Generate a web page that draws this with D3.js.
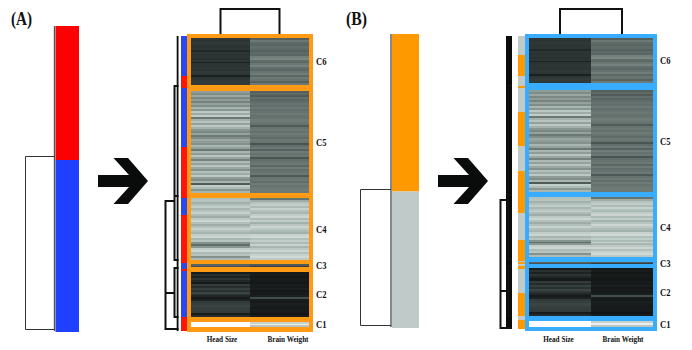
<!DOCTYPE html>
<html>
<head>
<meta charset="utf-8">
<script src="https://cdn.jsdelivr.net/npm/d3@7"></script>
<style>
  html, body { margin: 0; padding: 0; background: #fff; }
  svg { display: block; }
  text { font-family: "Liberation Serif", serif; font-weight: bold; fill: #111; }
</style>
</head>
<body>
<script>
const traits = ['Head Size', 'Brain Weight']
const clusterNames = ['C6', 'C5', 'C4', 'C3', 'C2', 'C1']

// stripes per cluster, top to bottom, 0 = near black, 100 = white
const headC6 = [14,13,15,14,13,14,9,14,13,14,12,14,6,13,14,14,13,15,14,5,13,15,16,15]
const brainC6 = [32,42,36,34,38,36,33,36,35,44,48,37,34,42,46,38,35,40,44,35,42,40,33,42]
const headC5 = [56,50,60,48,56,46,58,50,66,54,74,62,76,42,64,72,58,74,64,54,48,58,42,50,60,56,52,66,58,42,66,56,72,60,46,68,58,72,60,52,70,62,74,56,50,66,30,76,68,54,66]
const brainC5 = [32,36,30,38,34,37,40,38,42,38,40,42,39,40,43,42,39,30,40,42,39,43,40,37,42,40,27,38,42,33,43,40,42,27,38,40,42,35,43,38,40,42,29,40,42,38,43,40,42,43,42]
const headC4 = [70,72,64,70,76,66,72,78,68,62,74,80,70,62,70,78,70,66,76,80,66,72,52,38,54,76,80,68,72,52,68]
const brainC4 = [40,62,72,76,68,78,70,66,76,80,68,76,64,72,80,74,68,64,78,82,70,76,68,78,66,74,80,70,78,82,74]
const headC3 = [34,26]
const brainC3 = [30,18]
const headC2 = [4,12,6,14,8,3,16,10,18,12,20,14,8,3,6,16,18,20,18,17,16,4,10]
const brainC2 = [3,4,2,4,3,2,4,3,5,2,4,3,5,24,4,3,5,4,3,4,3,1,4]
const headC1 = [100,100,100]
const brainC1 = [78,92,72]
const headValues = [headC6, headC5, headC4, headC3, headC2, headC1]
const brainValues = [brainC6, brainC5, brainC4, brainC3, brainC2, brainC1]

// cluster extents in rows, row 0 is the top of the frame
const clusterRowsA = [[4, 51], [57, 159], [164, 226], [230, 233], [238, 283], [288, 293]]
const clusterRowsB = [[4, 49], [56, 158], [163, 223], [228, 230], [234, 282], [287, 293]]

// side colour bars: [group, rows]
const sideA = [[1,40],[0,12],[1,59],[0,51],[1,17],[0,48],[1,6],[0,2],[1,46],[0,14]]
const sideB = [[1,19],[0,21],[1,10],[0,2],[1,24],[0,34],[1,25],[0,42],[1,27],[0,21],[1,1],[0,2],[1,2],[0,3],[1,24],[0,23],[1,4],[0,9]]

// row dendrogram: depth, top row, bottom row, side branches
const mergesA = [
  {depth: 1, top: 52, bottom: 226, branch: [[162, 0]]},
  {depth: 1, top: 234, bottom: 283, branch: []},
  {depth: 3.25, top: 167, bottom: 295, branch: [[259, 1]]}
]
const mergesB = [
  {depth: 1, top: 52, bottom: 225, branch: [[161, 0]]},
  {depth: 1, top: 232, bottom: 282, branch: []},
  {depth: 3.25, top: 166, bottom: 294, branch: [[257, 1]]}
]

// the two group bars on the far left of each panel: share of the height
const overviewA = [{group: 'top', rows: 134}, {group: 'bottom', rows: 172}]
const overviewB = [{group: 'top', rows: 157.5}, {group: 'bottom', rows: 136.5}]

const svg = d3.select('body').append('svg')
  .attr('width', 692)
  .attr('height', 350)

const defs = svg.append('defs')
defs.append('filter').attr('id', 'soft')
  .attr('color-interpolation-filters', 'sRGB')
  .attr('x', '-2%').attr('y', '-2%').attr('width', '104%').attr('height', '104%')
  .append('feGaussianBlur').attr('stdDeviation', 0.3)

const rowY = d3.scaleLinear().domain([0, 298]).range([34, 332])
const shade = d3.scaleLinear()
  .domain([0, 15, 40, 70, 100])
  .range(['#0f1312', '#303838', '#66736f', '#b2c0bb', '#ffffff'])

function drawHeat(p) {
  const g = svg.append('g')
  const x = d3.scaleBand().domain(traits).range([p.cellLeft, p.cellRight])

  g.append('rect')
    .attr('x', p.frameLeft).attr('y', rowY(0))
    .attr('width', p.frameRight - p.frameLeft)
    .attr('height', rowY(p.frameEnd) - rowY(0))
    .attr('fill', p.frame)

  const heat = g.append('g').attr('filter', 'url(#soft)')
  p.clusters.forEach(function(ext, i) {
    const y = d3.scaleBand()
      .domain(d3.range(headValues[i].length))
      .range([rowY(ext[0]), rowY(ext[1])])
    traits.forEach(function(t, k) {
      const vals = k == 0 ? headValues[i] : brainValues[i]
      heat.selectAll(null)
        .data(vals)
        .join('rect')
        .attr('shape-rendering', 'crispEdges')
        .attr('x', x(t))
        .attr('y', function(d, j) { return y(j) })
        .attr('width', x.bandwidth())
        .attr('height', function(d, j) { return j == vals.length - 1 ? y.bandwidth() : y.bandwidth() + 1 })
        .attr('fill', function(d) { return shade(d) })
    })
    g.append('text')
      .attr('x', p.labelX)
      .attr('y', (rowY(ext[0]) + rowY(ext[1])) / 2 + 3.5)
      .attr('font-size', 10)
      .attr('textLength', 10.5)
      .attr('lengthAdjust', 'spacingAndGlyphs')
      .text(clusterNames[i])
  })

  traits.forEach(function(t, k) {
    g.append('text')
      .attr('x', x(t) + x.bandwidth() / 2 + p.traitShift[k])
      .attr('y', 342)
      .attr('text-anchor', 'middle')
      .attr('font-size', 9)
      .attr('textLength', k == 0 ? 30.5 : 41)
      .attr('lengthAdjust', 'spacingAndGlyphs')
      .text(t)
  })

  // column dendrogram
  const cx = traits.map(function(t) { return x(t) + x.bandwidth() / 2 })
  g.append('path')
    .attr('d', d3.line()([[cx[0], 34], [cx[0], 9], [cx[1], 9], [cx[1], 34]]))
    .attr('fill', 'none').attr('stroke', '#111').attr('stroke-width', 2)

  // side bar
  let row = 2
  p.side.forEach(function(s) {
    g.append('rect')
      .attr('x', p.sideLeft).attr('y', rowY(row))
      .attr('width', p.frameLeft - p.sideLeft)
      .attr('height', rowY(row + s[1]) - rowY(row))
      .attr('fill', p.sideColors[s[0]])
    row += s[1]
  })

  // row dendrogram
  const depthX = d3.scaleLinear().domain([0, 3.25]).range([p.treeRight, p.treeLeft])
  g.append('rect')
    .attr('x', p.treeRight - p.trunk)
    .attr('y', rowY(2))
    .attr('width', p.trunk)
    .attr('height', rowY(p.trunkEnd) - rowY(2))
    .attr('fill', '#0b0b0b')
  const line = d3.line()
  p.merges.forEach(function(m) {
    const child = m.depth > 1 ? 1 : 0
    g.append('path')
      .attr('d', line([
        [depthX(child), rowY(m.top)], [depthX(m.depth), rowY(m.top)],
        [depthX(m.depth), rowY(m.bottom)], [depthX(0), rowY(m.bottom)]
      ]))
      .attr('fill', 'none').attr('stroke', '#111').attr('stroke-width', 2)
    m.branch.forEach(function(b) {
      g.append('path')
        .attr('d', line([[depthX(m.depth), rowY(b[0])], [depthX(b[1]), rowY(b[0])]]))
        .attr('stroke', '#111').attr('stroke-width', 2)
    })
  })
}

function drawOverview(p) {
  const g = svg.append('g')
  const y = d3.scaleLinear().domain([0, d3.sum(p.bars, function(d) { return d.rows })]).range([p.top, p.bottom])
  const color = d3.scaleOrdinal().domain(['top', 'bottom']).range(p.colors)
  let acc = 0
  p.bars.forEach(function(b) {
    g.append('rect')
      .attr('x', p.left).attr('y', y(acc))
      .attr('width', p.right - p.left)
      .attr('height', y(acc + b.rows) - y(acc))
      .attr('fill', color(b.group))
    acc += b.rows
  })
  g.append('path')
    .attr('d', d3.line()([[p.left - 1, p.top], [p.left - 1, p.bottom - 1]]))
    .attr('stroke', '#555').attr('stroke-width', 1.4)
  g.append('path')
    .attr('d', d3.line()([[p.left - 1, p.bracketTop], [p.bracketX, p.bracketTop], [p.bracketX, p.bracketBottom], [p.left - 1, p.bracketBottom]]))
    .attr('fill', 'none').attr('stroke', '#333').attr('stroke-width', 1)
}

function drawArrow(ax) {
  const shape = [[0, 175], [31, 175], [15.5, 158], [30, 158], [50, 181], [30, 204], [15.5, 204], [31, 187], [0, 187]]
  svg.append('path')
    .attr('d', d3.line()(shape.map(function(d) { return [ax + d[0], d[1]] })) + 'Z')
    .attr('fill', '#0a0c0b')
}

drawOverview({
  bars: overviewA, colors: ['#ff0000', '#2040ff'],
  left: 55.5, right: 79, top: 26, bottom: 332,
  bracketX: 25.5, bracketTop: 156.5, bracketBottom: 329.5
})
drawOverview({
  bars: overviewB, colors: ['#ff9900', '#c0cbc9'],
  left: 392, right: 419, top: 34, bottom: 328,
  bracketX: 360.5, bracketTop: 189.5, bracketBottom: 325.5
})
drawArrow(98)
drawArrow(438)

drawHeat({
  clusters: clusterRowsA, frame: '#ff9a14',
  frameLeft: 187, frameRight: 313, frameEnd: 298,
  cellLeft: 191, cellRight: 309, labelX: 316, traitShift: [1.5, 8.5],
  side: sideA, sideColors: ['#ff1408', '#2a48f0'], sideLeft: 181,
  merges: mergesA, treeRight: 178.5, treeLeft: 165.5, trunk: 1.8, trunkEnd: 297
})
drawHeat({
  clusters: clusterRowsB, frame: '#38acff',
  frameLeft: 525, frameRight: 657, frameEnd: 297,
  cellLeft: 529, cellRight: 653, labelX: 660, traitShift: [-1.5, 1],
  side: sideB, sideColors: ['#ff9900', '#c0cbc9'], sideLeft: 518,
  merges: mergesB, treeRight: 512, treeLeft: 500.5, trunk: 6, trunkEnd: 295
})

const panelLabel = [{name: '(A)', x: 11}, {name: '(B)', x: 346}]
svg.selectAll('text.panel')
  .data(panelLabel)
  .join('text')
  .attr('class', 'panel')
  .attr('x', function(d) { return d.x })
  .attr('y', 25)
  .attr('font-size', 19)
  .attr('textLength', 21)
  .attr('lengthAdjust', 'spacingAndGlyphs')
  .text(function(d) { return d.name })
</script>
</body>
</html>
